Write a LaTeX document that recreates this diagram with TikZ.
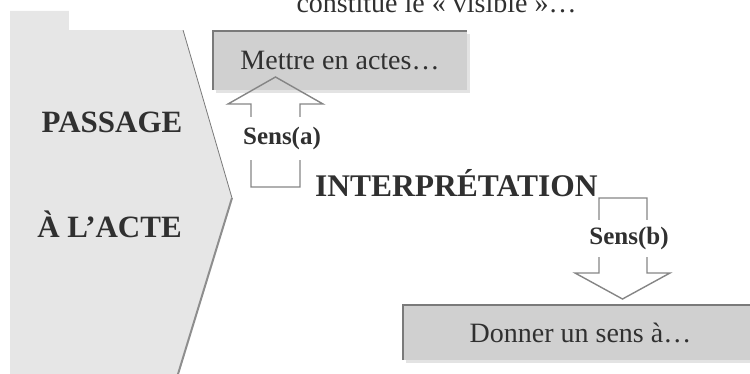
\documentclass[tikz,border=0pt]{standalone}
\usepackage{fontspec}
\setmainfont{Liberation Serif}
\usepackage{xcolor}
\usepackage{tikz}
\usetikzlibrary{positioning,calc,shadows}

\definecolor{panelgray}{HTML}{E6E6E6}
\definecolor{boxgray}{HTML}{D0D0D0}
\definecolor{shadegray}{HTML}{E3E3E3}
\definecolor{edgegray}{HTML}{7A7A7A}
\definecolor{arrowgray}{HTML}{858585}
\definecolor{inkgray}{HTML}{303030}

\begin{document}
\begin{tikzpicture}[x=1pt,y=-1pt,
  bigword/.style={text=inkgray,font=\fontsize{31}{33}\selectfont\bfseries,inner sep=0pt},
  plainword/.style={text=inkgray,font=\fontsize{28}{30}\selectfont,inner sep=0pt},
  actbox/.style={plainword,fill=boxgray,
    drop shadow={shadow xshift=3pt,shadow yshift=-3pt,fill=shadegray,opacity=1}},
  boxedge/.style={edgegray,line width=2.5pt},
  blockarrow/.style={arrowgray,line width=1.4pt,line join=miter},
  senslabel/.style={fill=white,text=inkgray,font=\fontsize{25}{27}\selectfont\bfseries,inner sep=0pt}]
\useasboundingbox (0,0) rectangle (750,374);
% chevron panel
\fill[panelgray] (10,11) -- (177.5,11) -- (232,198) -- (171.9,394) -- (10,394) -- cycle;
\draw[edgegray,line width=0.8pt] (177.5,11) -- (232,198);
\draw[edgegray!85,line width=2pt] (232,198) -- (171.9,394);
% top caption
\fill[white] (69,-5) rectangle (760,30);
\node[plainword,anchor=base] (visible) at (436.5,13) {constitue le « visible »…};
% side words
\node[bigword,anchor=base] (passage) at (112,133) {PASSAGE};
\node[bigword,anchor=base] (acte) at (109.5,238) {À L’ACTE};
% the two boxes
\node[actbox,minimum width=254pt,minimum height=59pt] (mettre) at (340,60.5) {Mettre en actes…};
\draw[boxedge] (mettre.south west) |- (mettre.north east);
\node[actbox,minimum width=355pt,minimum height=55pt] (donner) at (580.5,332.5) {Donner un sens à…};
\draw[boxedge] (donner.south west) |- (donner.north east);
% middle word
\node[bigword,font=\fontsize{31.5}{33}\selectfont\bfseries,anchor=base west] (interp) at (315,197) {INTERPRÉTATION};
% block arrows
\draw[blockarrow] (251,187) -- (251,104) -- (228,104) -- (275.5,77) -- (323,104) -- (300,104) -- (300,187) -- cycle;
\node[senslabel,minimum height=43pt] (sensa) at (282,138.5) {Sens(a)};
\draw[blockarrow] (599,198) -- (647,198) -- (647,273) -- (670,273) -- (622.5,299) -- (575,273) -- (599,273) -- cycle;
\node[senslabel,minimum height=37pt] (sensb) at (629,238.5) {Sens(b)};
\end{tikzpicture}
\end{document}
